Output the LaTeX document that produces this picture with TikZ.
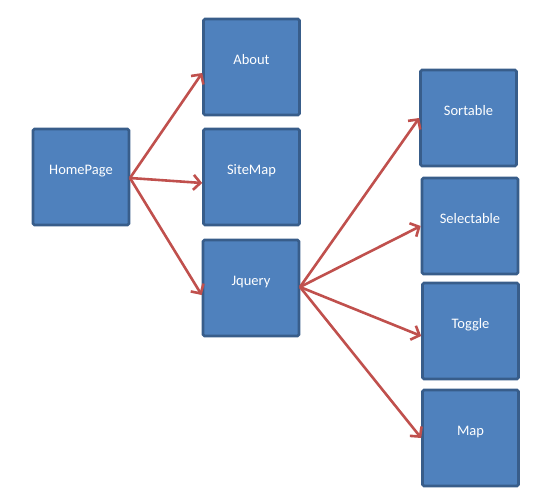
\documentclass[tikz,border=0pt]{standalone}
\usepackage{fontspec}
\setmainfont{Carlito}
\usetikzlibrary{arrows.meta}
\definecolor{boxfill}{HTML}{4F81BD}
\definecolor{boxline}{HTML}{385D8A}
\definecolor{arrowred}{HTML}{C0504D}
\begin{document}
\begin{tikzpicture}[x=1pt,y=-1pt,
  pagebox/.style={draw=boxline, fill=boxfill, line width=2.6pt, rounded corners=1.5pt,
    minimum width=96pt, minimum height=96pt, inner sep=0pt, text=white,
    font=\fontsize{14.5}{16}\selectfont, text height=10pt, text depth=15.4pt},
  link/.style={draw=arrowred, line width=2.6pt, -{Straight Barb[length=7pt,width=15pt,line width=2.6pt]}}]
\useasboundingbox (0,0) rectangle (549,500);
\node[pagebox] (home) at (81,177) {HomePage};
\node[pagebox] (about) at (251.5,67) {About};
\node[pagebox] (sitemap) at (251.5,177) {SiteMap};
\node[pagebox] (jquery) at (251,288) {Jquery};
\node[pagebox] (sortable) at (468.5,118) {Sortable};
\node[pagebox] (selectable) at (470,226) {Selectable};
\node[pagebox] (toggle) at (470.5,331) {Toggle};
\node[pagebox] (map) at (470.5,438) {Map};
\coordinate (hs) at (130,178);
\coordinate (js) at (300,287);
\draw[link] (hs) -- ([yshift=-6pt]about.west);
\draw[link] (hs) -- ([yshift=-6pt]sitemap.west);
\draw[link] (hs) -- ([yshift=-7pt]jquery.west);
\draw[link] (js) -- (sortable.west);
\draw[link] (js) -- (selectable.west);
\draw[link] (js) -- ([yshift=-5pt]toggle.west);
\draw[link] (js) -- (map.west);
\end{tikzpicture}
\end{document}
